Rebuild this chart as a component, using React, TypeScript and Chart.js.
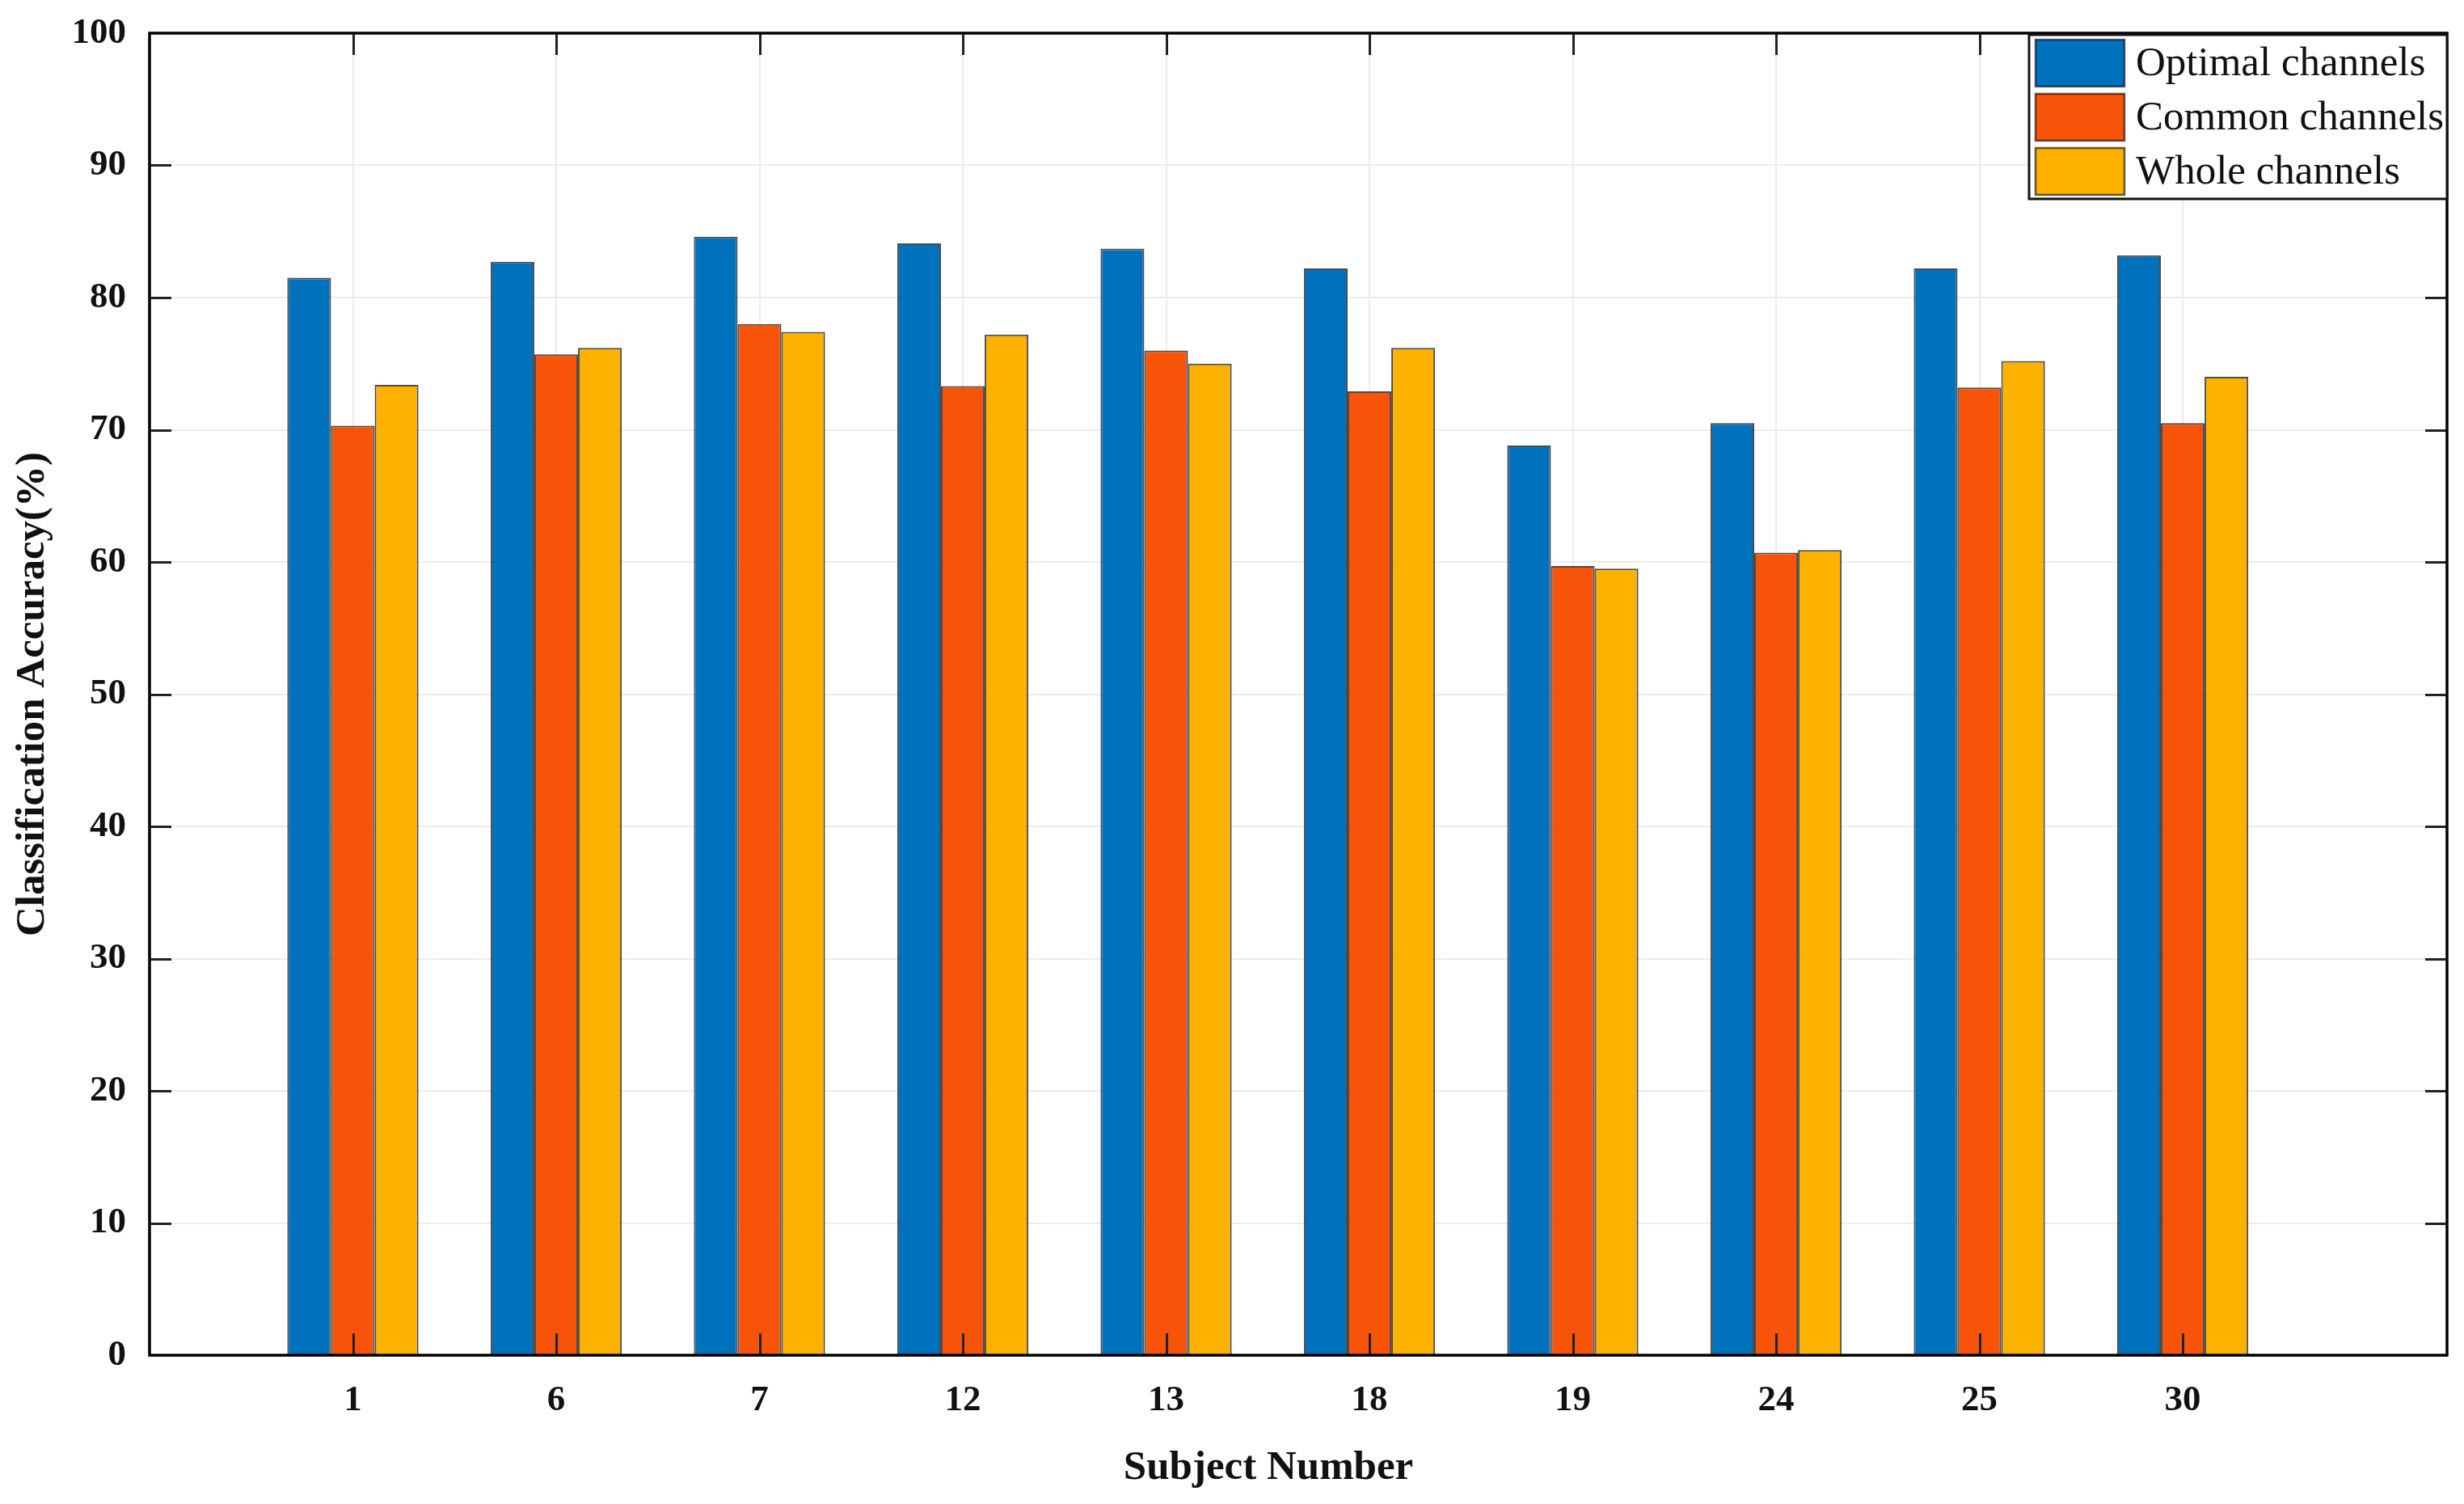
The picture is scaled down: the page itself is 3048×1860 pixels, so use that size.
import React, { useEffect, useRef } from "react";
import { Chart, registerables } from "chart.js";

Chart.register(...registerables);

// ---- data ----
const subjects = ["1", "6", "7", "12", "13", "18", "19", "24", "25", "30"];
const seriesLabels = ["Optimal channels", "Common channels", "Whole channels"];
const optimalChannels = [81.5, 82.7, 84.6, 84.1, 83.7, 82.2, 68.8, 70.5, 82.2, 83.2];
const commonChannels = [70.3, 75.7, 78.0, 73.3, 76.0, 72.9, 59.7, 60.7, 73.2, 70.5];
const wholeChannels = [73.4, 76.2, 77.4, 77.2, 75.0, 76.2, 59.5, 60.9, 75.2, 74.0];
const yMin = 0;
const yMax = 100;
const yStep = 10;
const xTitle = "Subject Number";
const yTitle = "Classification Accuracy(%)";

const seriesColors = ["#0072BD", "#F7540A", "#FDB100"];
const FONT = "'Liberation Serif', 'Times New Roman', serif";

const framePlugin = {
  id: "matlabFrame",
  afterDatasetsDraw(chart: any) {
    const { ctx, chartArea: a, scales } = chart;
    const tl = 27;
    ctx.save();
    ctx.strokeStyle = "#222";
    ctx.lineWidth = 3;
    ctx.beginPath();
    scales.y.ticks.forEach((t: any) => {
      if (t.value === yMin || t.value === yMax) return;
      const py = Math.round(scales.y.getPixelForValue(t.value)) + 0.5;
      ctx.moveTo(a.left, py);
      ctx.lineTo(a.left + tl, py);
      ctx.moveTo(a.right, py);
      ctx.lineTo(a.right - tl, py);
    });
    scales.x.ticks.forEach((t: any) => {
      const px = Math.round(scales.x.getPixelForValue(t.value)) + 0.5;
      ctx.moveTo(px, a.bottom);
      ctx.lineTo(px, a.bottom - tl);
      ctx.moveTo(px, a.top);
      ctx.lineTo(px, a.top + tl);
    });
    ctx.stroke();
    ctx.strokeStyle = "#000";
    ctx.lineWidth = 3.5;
    ctx.strokeRect(a.left, a.top, a.right - a.left, a.bottom - a.top);
    ctx.restore();
  },
};

const xTitlePlugin = {
  id: "xTitleText",
  afterDraw(chart: any) {
    const { ctx, chartArea: a } = chart;
    ctx.save();
    ctx.font = `bold 51px ${FONT}`;
    ctx.fillStyle = "#111";
    ctx.textAlign = "center";
    ctx.textBaseline = "middle";
    ctx.fillText(xTitle, a.left + (a.right - a.left) * 0.487, a.bottom + 140);
    ctx.restore();
  },
};

const legendPlugin = {
  id: "insideLegend",
  afterDraw(chart: any) {
    const { ctx, chartArea: a } = chart;
    const ds = chart.data.datasets;
    const boxW = 517;
    const rowH = 67;
    const boxH = 203;
    const left = a.right - boxW;
    const top = a.top + 2;
    ctx.save();
    ctx.fillStyle = "#fff";
    ctx.fillRect(left, top, boxW, boxH);
    ctx.strokeStyle = "#111";
    ctx.lineWidth = 3;
    ctx.strokeRect(left, top, boxW, boxH);
    ctx.font = `51px ${FONT}`;
    ctx.textBaseline = "middle";
    ctx.textAlign = "left";
    ds.forEach((d: any, i: number) => {
      const cy = top + 35 + i * rowH;
      ctx.fillStyle = d.backgroundColor;
      ctx.fillRect(left + 8, cy - 29, 110, 58);
      ctx.strokeStyle = "rgba(0,0,0,0.6)";
      ctx.lineWidth = 2.5;
      ctx.strokeRect(left + 8, cy - 29, 110, 58);
      ctx.fillStyle = "#111";
      ctx.fillText(d.label, left + 132, cy + 2);
    });
    ctx.restore();
  },
};

export default function App() {
  const canvasRef = useRef<HTMLCanvasElement | null>(null);

  useEffect(() => {
    if (!canvasRef.current) return;
    const values = [optimalChannels, commonChannels, wholeChannels];
    const chart = new Chart(canvasRef.current, {
      type: "bar",
      data: {
        datasets: values.map((arr, k) => ({
          label: seriesLabels[k],
          data: arr.map((v, i) => ({ x: i + 1, y: v })),
          backgroundColor: seriesColors[k],
          borderColor: "rgba(15,15,15,0.75)",
          borderWidth: 2,
          categoryPercentage: 0.645,
          barPercentage: 1.0,
        })),
      },
      options: {
        responsive: false,
        animation: false,
        devicePixelRatio: 1,
        layout: { padding: { left: 0, top: 41, right: 21, bottom: 0 } },
        plugins: {
          legend: { display: false },
          tooltip: { enabled: false },
        },
        scales: {
          x: {
            type: "linear",
            min: 0,
            max: subjects.length + 1.3,
            offset: false,
            afterBuildTicks: (scale: any) => {
              scale.ticks = subjects.map((_, i) => ({ value: i + 1 }));
            },
            afterFit: (scale: any) => {
              scale.height = 184;
              scale.paddingLeft = 0;
              scale.paddingRight = 0;
              scale.paddingTop = 0;
              scale.paddingBottom = 0;
            },
            grid: {
              color: "#ececec",
              lineWidth: 2,
              drawTicks: false,
              offset: false,
            },
            border: { display: false },
            ticks: {
              autoSkip: false,
              maxRotation: 0,
              padding: 29,
              color: "#111",
              font: { family: FONT, size: 45, weight: "bold" },
              callback: (value: any) => subjects[Math.round(value) - 1] ?? "",
            },
            title: { display: false, text: xTitle },
          },
          y: {
            min: yMin,
            max: yMax,
            afterFit: (scale: any) => {
              scale.width = 185;
              scale.paddingLeft = 0;
              scale.paddingRight = 0;
              scale.paddingTop = 0;
              scale.paddingBottom = 0;
            },
            grid: {
              color: "#ececec",
              lineWidth: 2,
              drawTicks: false,
            },
            border: { display: false },
            ticks: {
              stepSize: yStep,
              padding: 29,
              color: "#111",
              font: { family: FONT, size: 45, weight: "bold" },
            },
            title: {
              display: true,
              text: yTitle,
              color: "#111",
              font: { family: FONT, size: 51, weight: "bold" },
              padding: { top: 10, bottom: 0 },
            },
          },
        },
      },
      plugins: [framePlugin, legendPlugin, xTitlePlugin],
    } as any);
    return () => chart.destroy();
  }, []);

  return (
    <div style={{ position: "fixed", left: 0, top: 0, width: 3048, height: 1860, background: "#fff" }}>
      <canvas ref={canvasRef} width={3048} height={1860} style={{ display: "block" }} />
    </div>
  );
}
